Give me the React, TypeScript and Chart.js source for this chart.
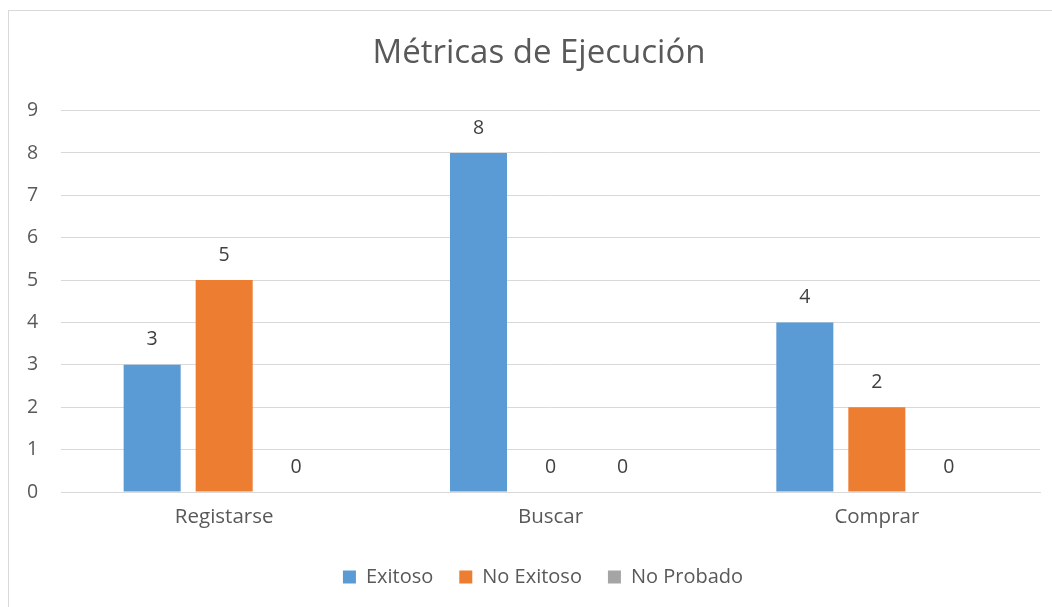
import React, { useEffect, useRef } from "react";
import { Chart, registerables } from "chart.js";

Chart.register(...registerables);

const categories = ["Registarse", "Buscar", "Comprar"];
const exitoso = [3, 8, 4];
const noExitoso = [5, 0, 2];
const noProbado = [0, 0, 0];
const yTicks = [0, 1, 2, 3, 4, 5, 6, 7, 8, 9];

const FONT = "'Open Sans', 'Noto Sans', sans-serif";
const TEXT = "#595959";
const GRID = "#d9d9d9";

const borderPlugin = {
  id: "frameBorder",
  beforeDraw(chart: any) {
    const ctx = chart.ctx;
    ctx.save();
    ctx.fillStyle = "#ffffff";
    ctx.fillRect(0, 0, chart.width, chart.height);
    ctx.strokeStyle = GRID;
    ctx.lineWidth = 1;
    ctx.strokeRect(8.5, 10.5, 1200, 800);
    ctx.restore();
  },
  afterLayout(chart: any) {
    if (chart.legend) {
      chart.legend.left += 4;
      chart.legend.right += 4;
    }
  },
};

const valueLabels = {
  id: "valueLabels",
  afterDatasetsDraw(chart: any) {
    const ctx = chart.ctx;
    ctx.save();
    ctx.font = `19.5px ${FONT}`;
    ctx.fillStyle = "#404040";
    ctx.textAlign = "center";
    ctx.textBaseline = "middle";
    chart.data.datasets.forEach((ds: any, i: number) => {
      const meta = chart.getDatasetMeta(i);
      meta.data.forEach((el: any, j: number) => {
        ctx.fillText(String(ds.data[j]), el.x, el.y - 25);
      });
    });
    ctx.restore();
  },
};

export default function App() {
  const ref = useRef<HTMLCanvasElement>(null);
  useEffect(() => {
    if (!ref.current) return;
    const chart = new Chart(ref.current, {
      type: "bar",
      data: {
        labels: categories,
        datasets: [
          { label: "Exitoso", data: exitoso, backgroundColor: "#5b9bd5" },
          { label: "No Exitoso", data: noExitoso, backgroundColor: "#ed7d31" },
          { label: "No Probado", data: noProbado, backgroundColor: "#a5a5a5" },
        ],
      },
      options: {
        responsive: false,
        animation: false,
        devicePixelRatio: 1,
        layout: { padding: { left: 38, right: 12, top: 11, bottom: 10 } },
        datasets: {
          bar: { categoryPercentage: 0.662, barPercentage: 0.792 },
        } as any,
        scales: {
          x: {
            afterFit(scale: any) {
              scale.height = 49;
            },
            grid: { display: false, drawTicks: false },
            border: { display: true, color: GRID, width: 1 },
            ticks: { color: TEXT, font: { family: FONT, size: 20.5 }, padding: 12.5 },
          },
          y: {
            min: 0,
            max: 9,
            afterFit(scale: any) {
              scale.width = 23;
            },
            afterBuildTicks(scale: any) {
              scale.ticks = yTicks.map((v) => ({ value: v }));
            },
            grid: { color: GRID, lineWidth: 1, drawTicks: false },
            border: { display: false },
            ticks: {
              color: TEXT,
              font: { family: FONT, size: 19.5 },
              mirror: true,
              crossAlign: "near",
              padding: -34,
            },
          },
        },
        plugins: {
          title: {
            display: true,
            text: "Métricas de Ejecución",
            color: TEXT,
            font: { family: FONT, size: 33, weight: "normal" },
            padding: { top: 23, bottom: 37 },
          },
          legend: {
            position: "bottom",
            labels: {
              color: TEXT,
              font: { family: FONT, size: 20 },
              boxWidth: 13,
              boxHeight: 13,
              padding: 26,
            },
          },
          tooltip: { enabled: false },
        },
      },
      plugins: [borderPlugin, valueLabels],
    });
    return () => chart.destroy();
  }, []);
  return (
    <div style={{ position: "fixed", left: 0, top: 0, width: 1052, height: 607 }}>
      <canvas ref={ref} width={1052} height={607} style={{ display: "block" }} />
    </div>
  );
}
